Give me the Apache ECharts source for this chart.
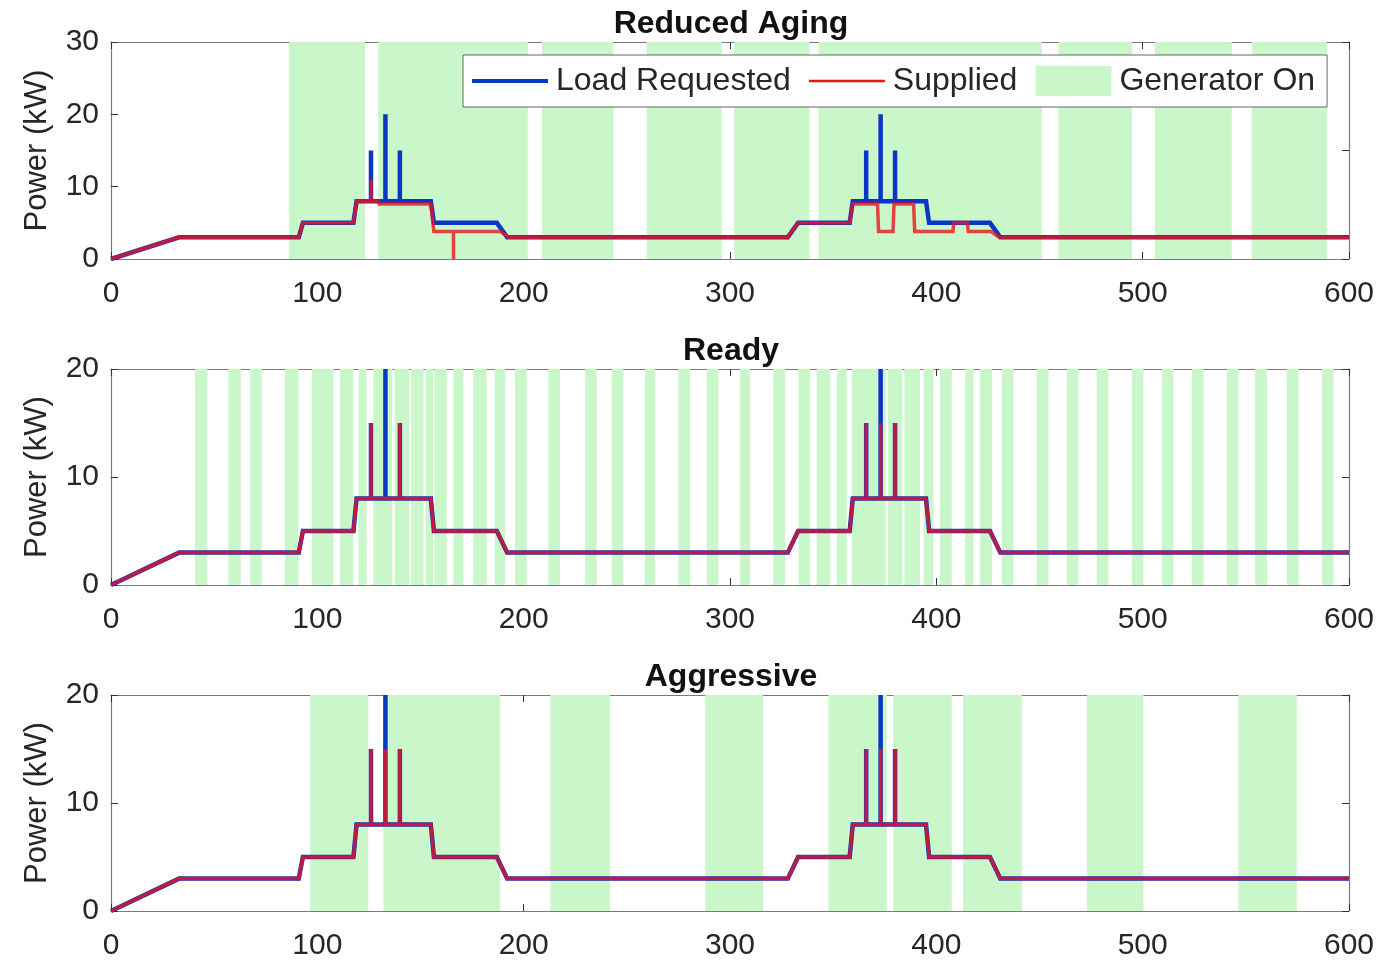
<!DOCTYPE html>
<html>
<head>
<meta charset="utf-8">
<script src="https://cdn.jsdelivr.net/npm/echarts@6/dist/echarts.min.js"></script>
<style>
html,body{margin:0;padding:0;background:#fff;}
#chart{width:1399px;height:961px;}
</style>
</head>
<body>
<div id="chart"></div>
<script>
// ---------------- data ----------------
const panelTitles = ['Reduced Aging', 'Ready', 'Aggressive'];
const xTicks = [0, 100, 200, 300, 400, 500, 600];
const yMaxes = [30, 20, 20];

// Load requested (kW) vs time
const loadT = [0, 33, 91, 93, 117.5, 119, 126, 126, 126, 133, 133, 133, 140, 140, 140, 155, 156.5, 187, 192,
  328, 333, 358, 359.5, 366, 366, 366, 373, 373, 373, 380, 380, 380, 395, 396.5, 426, 431, 600];
const loadP = [0, 3, 3, 5, 5, 8, 8, 15, 8, 8, 20, 8, 8, 15, 8, 8, 5, 5, 3,
  3, 5, 5, 8, 8, 15, 8, 8, 20, 8, 8, 15, 8, 8, 5, 5, 3, 3];

// Supplied - Reduced Aging
const supAgingT = [0, 33, 91, 93, 117.5, 119, 126, 126, 126, 129.5, 130, 155, 156.5, 166, 166, 166, 189, 192.5,
  328, 333, 358, 359.5, 371.5, 372, 379, 379.5, 389, 389.5, 408, 408.5, 415, 415.5, 426.5, 430.5, 600];
const supAgingP = [0, 3, 3, 5, 5, 8, 8, 11, 8, 8, 7.6, 7.6, 3.8, 3.8, 0, 3.8, 3.8, 3,
  3, 5, 5, 7.6, 7.6, 3.8, 3.8, 7.6, 7.6, 3.8, 3.8, 5, 5, 3.8, 3.8, 3, 3];

// Supplied - Ready
const supReadyT = [0, 33, 91, 93, 117.5, 119, 126, 126, 126, 140, 140, 140, 155, 156.5, 187, 192,
  328, 333, 358, 359.5, 366, 366, 366, 373, 373, 373, 380, 380, 380, 395, 396.5, 426, 431, 600];
const supReadyP = [0, 3, 3, 5, 5, 8, 8, 15, 8, 8, 15, 8, 8, 5, 5, 3,
  3, 5, 5, 8, 8, 15, 8, 8, 15, 8, 8, 15, 8, 8, 5, 5, 3, 3];

// Supplied - Aggressive
const supAggrT = [0, 33, 91, 93, 117.5, 119, 126, 126, 126, 133, 133, 133, 140, 140, 140, 155, 156.5, 187, 192,
  328, 333, 358, 359.5, 366, 366, 366, 373, 373, 373, 380, 380, 380, 395, 396.5, 426, 431, 600];
const supAggrP = [0, 3, 3, 5, 5, 8, 8, 15, 8, 8, 15, 8, 8, 15, 8, 8, 5, 5, 3,
  3, 5, 5, 8, 8, 15, 8, 8, 15, 8, 8, 15, 8, 8, 5, 5, 3, 3];

// Generator-on intervals [start, end]
const genAging = [[86.3,123.1],[129.5,202],[208.8,243.5],[259.6,296],[302,338.5],[342.9,451.1],
  [459.2,494.8],[506,543.2],[552.9,589.3]];
const genReady = [[40.7,46.7],[56.9,62.9],[67.4,73],[84.3,90.8],[97.3,107.8],[111,117.5],[119.9,123.9],
  [127.2,136.3],[137.5,144.5],[145.5,151.5],[152.5,156.2],[156.8,162.7],[166,170.8],[175.6,182.1],
  [186,191],[195.8,201.5],[212,217.6],[229.8,235.4],[242.7,248.3],[258.8,263.7],[275,280.7],
  [288.8,294.4],[304.9,309.7],[321,326.7],[333.2,338.8],[342,348.5],[351.8,356.6],[359,375.5],
  [376.5,383.5],[384.5,392.1],[393.8,398.6],[401.8,407.5],[414,418],[421.2,426.9],[431.7,437.4],
  [448.7,454.4],[463.3,468.9],[477.8,483.4],[494.8,500.4],[509.3,514.9],[523.8,529.5],[540.8,546.4],
  [554.5,560.2],[569.9,575.5],[586.9,592.5]];
const genAggr = [[96.5,124.7],[132,188.6],[213,241.9],[288,316],[347.7,376],[379.2,407.5],
  [413,441.4],[473,500.4],[546.4,574.7]];

// ---------------- chart ----------------
const FONT = "'Liberation Sans', Arial, Helvetica, sans-serif";
const BLUE = '#0a36c8';
const RED = '#e8141e';
const GREEN = '#c9f7c9';
const grids = [
  {left: 111, top: 42, width: 1238, height: 217},
  {left: 111, top: 369, width: 1238, height: 216},
  {left: 111, top: 695, width: 1238, height: 217}
];
const zip = (t, p) => t.map((v, i) => [v, p[i]]);
const supplied = [zip(supAgingT, supAgingP), zip(supReadyT, supReadyP), zip(supAggrT, supAggrP)];
const gens = [genAging, genReady, genAggr];

const xAxes = [], yAxes = [], series = [], titles = [];
grids.forEach((g, i) => {
  xAxes.push({
    type: 'value', gridIndex: i, min: 0, max: 600, interval: 100, position: 'bottom',
    axisLine: {show: true, onZero: false, lineStyle: {color: '#7a7a7a', width: 1.2}},
    axisTick: {show: true, inside: true, length: 7, lineStyle: {color: '#333'}},
    axisLabel: {color: '#262626', fontSize: 30, fontFamily: FONT, margin: 20},
    splitLine: {show: false}
  });
  xAxes.push({
    type: 'value', gridIndex: i, min: 0, max: 600, interval: 100, position: 'top',
    axisLine: {show: true, onZero: false, lineStyle: {color: '#7a7a7a', width: 1.2}},
    axisTick: {show: true, inside: true, length: 7, lineStyle: {color: '#333'}},
    axisLabel: {show: false}, splitLine: {show: false}
  });
  yAxes.push({
    type: 'value', gridIndex: i, min: 0, max: yMaxes[i], interval: 10, position: 'left',
    name: 'Power (kW)', nameLocation: 'middle', nameRotate: 90, nameGap: 58,
    nameTextStyle: {color: '#262626', fontSize: 31, fontFamily: FONT},
    axisLine: {show: true, onZero: false, lineStyle: {color: '#7a7a7a', width: 1.2}},
    axisTick: {show: true, inside: true, length: 7, lineStyle: {color: '#333'}},
    axisLabel: {color: '#262626', fontSize: 30, fontFamily: FONT, margin: 12},
    splitLine: {show: false}
  });
  yAxes.push({
    type: 'value', gridIndex: i, min: 0, max: yMaxes[i], interval: i === 0 ? 15 : 10, position: 'right',
    axisLine: {show: true, onZero: false, lineStyle: {color: '#7a7a7a', width: 1.2}},
    axisTick: {show: true, inside: true, length: 7, lineStyle: {color: '#333'}},
    axisLabel: {show: false}, splitLine: {show: false}
  });
  titles.push({
    text: panelTitles[i], left: 726, top: g.top - 39, textAlign: 'center',
    textStyle: {fontSize: 32, fontWeight: 'bold', color: '#111', fontFamily: FONT}
  });
  series.push({
    name: 'Generator On', type: 'custom', xAxisIndex: 2 * i, yAxisIndex: 2 * i,
    itemStyle: {color: GREEN}, z: 1, clip: true,
    encode: {x: [0, 1]},
    data: gens[i],
    renderItem: function (params, api) {
      const cs = params.coordSys;
      const x0 = api.coord([api.value(0), 0])[0];
      const x1 = api.coord([api.value(1), 0])[0];
      return {type: 'rect', shape: {x: x0, y: cs.y, width: x1 - x0, height: cs.height},
        style: {fill: GREEN}};
    }
  });
  series.push({
    name: 'Load Requested', type: 'line', xAxisIndex: 2 * i, yAxisIndex: 2 * i,
    data: zip(loadT, loadP), showSymbol: false, symbol: 'none', z: 3,
    lineStyle: {color: BLUE, width: 4.5, join: 'miter'}, itemStyle: {color: BLUE},
    silent: true, animation: false
  });
  series.push({
    name: 'Supplied', type: 'line', xAxisIndex: 2 * i, yAxisIndex: 2 * i,
    data: supplied[i], showSymbol: false, symbol: 'none', z: 4,
    lineStyle: {color: RED, width: 3.5, opacity: 0.8, join: 'miter'}, itemStyle: {color: RED},
    silent: true, animation: false
  });
});

const chart = echarts.init(document.getElementById('chart'), null, {renderer: 'canvas'});
chart.setOption({
  backgroundColor: '#ffffff',
  animation: false,
  title: titles,
  grid: grids,
  xAxis: xAxes,
  yAxis: yAxes,
  legend: {
    left: 463, top: 55,
    data: [
      {name: 'Load Requested', icon: 'path://M0,0H76V4H0Z'},
      {name: 'Supplied', icon: 'path://M0,0H76V2.4H0Z'},
      {name: 'Generator On', icon: 'rect'}
    ],
    symbolKeepAspect: true,
    itemWidth: 76, itemHeight: 30, itemGap: 18,
    padding: [10, 12, 10, 9],
    backgroundColor: '#ffffff', borderColor: '#666', borderWidth: 1,
    textStyle: {fontSize: 32, color: '#262626', fontFamily: FONT, padding: [0, 0, 0, 3]},
    selectedMode: false, z: 10
  },
  series: series
});
</script>
</body>
</html>
